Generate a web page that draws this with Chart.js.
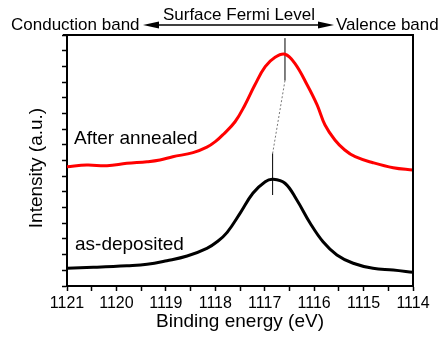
<!DOCTYPE html>
<html>
<head>
<meta charset="utf-8">
<script src="https://cdn.jsdelivr.net/npm/chart.js@4"></script>
<style>
  html, body { margin: 0; padding: 0; background: #fff; }
  #wrap { width: 444px; height: 337px; position: relative; }
</style>
</head>
<body>
<div id="wrap"><canvas id="myChart"></canvas></div>
<script>
// tick labels on the energy axis (reversed, high to low)
const energyLabels = [1121, 1120, 1119, 1118, 1117, 1116, 1115, 1114];

// After annealed (red)
const annealedEnergy = [1121.0, 1120.6, 1120.19, 1119.79, 1119.38, 1119.12, 1118.86, 1118.45, 1118.17, 1118.0, 1117.84,
    1117.6, 1117.4, 1117.2, 1116.99, 1116.79, 1116.59, 1116.39, 1116.14, 1115.94, 1115.78,
    1115.58, 1115.38, 1115.17, 1114.81, 1114.4, 1114.0];
const annealedIntensity = [7.60, 7.71, 7.67, 7.82, 7.92, 8.03, 8.24, 8.50, 8.85, 9.2, 9.66,
    10.47, 11.54, 12.81, 13.98, 14.58, 14.77, 14.19, 12.81, 11.54, 10.26,
    9.31, 8.67, 8.24, 7.86, 7.54, 7.39];

// as-deposited (black)
const depositedEnergy = [1121.0, 1120.47, 1119.79, 1119.38, 1118.98, 1118.57, 1118.17, 1117.95, 1117.76, 1117.5,
    1117.24, 1116.99, 1116.83, 1116.59, 1116.35, 1116.08, 1115.82, 1115.54, 1115.21, 1114.81,
    1114.4, 1114.0];
const depositedIntensity = [1.13, 1.19, 1.29, 1.38, 1.61, 1.91, 2.40, 2.85, 3.42, 4.63,
    5.91, 6.65, 6.80, 6.55, 5.48, 4.00, 2.82, 1.98, 1.45, 1.13,
    1.02, 0.87];

// peak position markers
const annealedPeak = { energy: 1116.59, from: 13.1, to: 15.8 };
const depositedPeak = { energy: 1116.84, from: 5.8, to: 8.45 };

const toPoints = (xs, ys) => xs.map((x, i) => ({ x: x, y: ys[i] }));

const fontName = 'Liberation Sans';
Chart.defaults.font.family = fontName;
Chart.defaults.color = '#000';

// extra text + frame drawn on top of the chart
const annotations = {
    id: 'annotations',
    afterDraw(chart) {
        const ctx = chart.ctx;
        const a = chart.chartArea;
        ctx.save();
        // top and right frame
        ctx.strokeStyle = '#000';
        ctx.lineWidth = 2;
        ctx.beginPath();
        ctx.moveTo(a.left - 4, a.top);
        ctx.lineTo(a.right, a.top);
        ctx.lineTo(a.right, a.bottom);
        ctx.stroke();

        ctx.fillStyle = '#000';
        ctx.textBaseline = 'alphabetic';

        // header with arrow
        ctx.font = '17px ' + fontName;
        ctx.textAlign = 'left';
        ctx.fillText('Conduction band', 11, 30);
        ctx.fillText('Valence band', 336, 30);
        ctx.textAlign = 'center';
        ctx.fillText('Surface Fermi Level', 239, 20);

        ctx.lineWidth = 1.5;
        ctx.beginPath();
        ctx.moveTo(155, 25);
        ctx.lineTo(322, 25);
        ctx.stroke();
        ctx.beginPath();
        ctx.moveTo(143, 25);
        ctx.lineTo(159, 21.5);
        ctx.lineTo(159, 28.5);
        ctx.closePath();
        ctx.fill();
        ctx.beginPath();
        ctx.moveTo(334, 25);
        ctx.lineTo(318, 21.5);
        ctx.lineTo(318, 28.5);
        ctx.closePath();
        ctx.fill();

        // curve labels
        ctx.font = '19px ' + fontName;
        ctx.textAlign = 'left';
        ctx.fillText('After annealed', 74, 144);
        ctx.fillText('as-deposited', 75, 250);

        // axis titles
        ctx.textAlign = 'center';
        ctx.fillText('Binding energy (eV)', 240, 327);
        ctx.translate(42, 168);
        ctx.rotate(-Math.PI / 2);
        ctx.fillText('Intensity (a.u.)', 0, 0);
        ctx.restore();
    }
};

const chartConfig = {
    type: 'scatter',
    data: {
        datasets: [
            {
                label: 'After annealed',
                data: toPoints(annealedEnergy, annealedIntensity),
                showLine: true,
                borderColor: '#ff0000',
                borderWidth: 3,
                pointRadius: 0,
                tension: 0.4
            },
            {
                label: 'as-deposited',
                data: toPoints(depositedEnergy, depositedIntensity),
                showLine: true,
                borderColor: '#000000',
                borderWidth: 3,
                pointRadius: 0,
                tension: 0.4
            },
            {
                label: 'annealed peak',
                data: [{ x: annealedPeak.energy, y: annealedPeak.from }, { x: annealedPeak.energy, y: annealedPeak.to }],
                showLine: true,
                borderColor: '#000',
                borderWidth: 1,
                pointRadius: 0
            },
            {
                label: 'deposited peak',
                data: [{ x: depositedPeak.energy, y: depositedPeak.from }, { x: depositedPeak.energy, y: depositedPeak.to }],
                showLine: true,
                borderColor: '#000',
                borderWidth: 1,
                pointRadius: 0
            },
            {
                label: 'shift',
                data: [{ x: annealedPeak.energy, y: annealedPeak.from }, { x: depositedPeak.energy, y: depositedPeak.to }],
                showLine: true,
                borderColor: '#777',
                borderWidth: 1,
                borderDash: [2, 2],
                pointRadius: 0
            }
        ]
    },
    options: {
        responsive: true,
        maintainAspectRatio: false,
        animation: false,
        events: [],
        layout: {
            padding: { top: 35, right: 31, left: 0, bottom: 0 }
        },
        plugins: {
            legend: { display: false },
            tooltip: { enabled: false }
        },
        scales: {
            x: {
                type: 'linear',
                reverse: true,
                min: energyLabels[energyLabels.length - 1],
                max: energyLabels[0],
                afterFit: (scale) => { scale.height = 51; },
                afterBuildTicks: (scale) => {
                    const ticks = [];
                    energyLabels.forEach((v, i) => {
                        ticks.push({ value: v });
                        if (i < energyLabels.length - 1) ticks.push({ value: v - 0.5 });
                    });
                    scale.ticks = ticks;
                },
                border: { display: true, color: '#000', width: 2 },
                grid: {
                    drawOnChartArea: false,
                    drawTicks: true,
                    tickLength: 5,
                    tickWidth: 1.5,
                    tickColor: '#000'
                },
                ticks: {
                    autoSkip: false,
                    maxRotation: 0,
                    padding: 3,
                    color: '#000',
                    font: { family: fontName, size: 16 },
                    callback: (value) => (Number.isInteger(value) ? String(value) : '')
                }
            },
            y: {
                type: 'linear',
                min: 0,
                max: 16,
                afterFit: (scale) => { scale.width = 67; },
                border: { display: true, color: '#000', width: 2 },
                grid: {
                    drawOnChartArea: false,
                    drawTicks: true,
                    tickLength: 5,
                    tickWidth: 1.5,
                    tickColor: '#000'
                },
                ticks: {
                    stepSize: 1,
                    display: false
                }
            }
        }
    },
    plugins: [annotations]
};

const myChart = new Chart(document.getElementById('myChart').getContext('2d'), chartConfig);
</script>
</body>
</html>
